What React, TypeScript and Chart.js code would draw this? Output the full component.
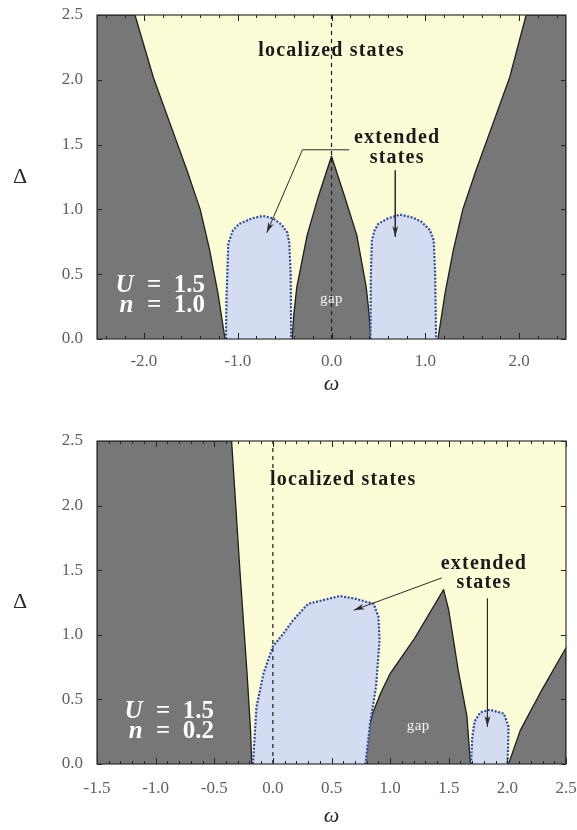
import React, { useEffect, useRef } from 'react';
import { Chart, registerables } from 'chart.js';

Chart.register(...registerables);

type P = [number, number];

// ---------------- Panel 1 : U = 1.5, n = 1.0 ----------------
const p1XLabels = [-2, -1, 0, 1, 2];
const p1YLabels = [0, 0.5, 1, 1.5, 2, 2.5];
const p1LeftGap: P[] = [[-2.5, 0], [-2.5, 2.5], [-2.095, 2.5], [-1.9, 2.02], [-1.72, 1.66], [-1.54, 1.3], [-1.4, 1.0], [-1.3, 0.69], [-1.21, 0.35], [-1.135, 0]];
const p1CenterGap: P[] = [[-0.42, 0], [-0.4, 0.2], [-0.37, 0.4], [-0.26, 0.8], [-0.14, 1.1], [0, 1.41], [0.14, 1.1], [0.27, 0.8], [0.37, 0.4], [0.4, 0.2], [0.42, 0]];
const p1RightGap: P[] = [[1.135, 0], [1.21, 0.35], [1.3, 0.69], [1.4, 1.0], [1.54, 1.3], [1.72, 1.66], [1.9, 2.02], [2.075, 2.5], [2.5, 2.5], [2.5, 0]];
const p1LeftExtended: P[] = [[-1.125, 0], [-1.12, 0.3], [-1.1, 0.74], [-1.05, 0.84], [-0.98, 0.89], [-0.85, 0.93], [-0.73, 0.95], [-0.62, 0.93], [-0.53, 0.88], [-0.47, 0.82], [-0.45, 0.74], [-0.435, 0.5], [-0.43, 0]];
const p1RightExtended: P[] = [[0.415, 0], [0.42, 0.5], [0.43, 0.76], [0.46, 0.84], [0.5, 0.89], [0.6, 0.93], [0.73, 0.96], [0.85, 0.94], [0.95, 0.91], [1.05, 0.84], [1.09, 0.76], [1.105, 0.5], [1.115, 0]];
const p1ZeroLine: P[] = [[0, 0], [0, 2.5]];
const p1ArrowA: P[] = [[0.19, 1.46], [-0.31, 1.46], [-0.69, 0.82]];
const p1ArrowB: P[] = [[0.68, 1.3], [0.68, 0.79]];
const p1Notes = [
  { text: 'localized states', x: 0, y: 2.22, kind: 'bold' },
  { text: 'extended', x: 0.7, y: 1.55, kind: 'bold' },
  { text: 'states', x: 0.7, y: 1.4, kind: 'bold' },
  { text: 'gap', x: 0, y: 0.31, kind: 'gap' },
];
const p1Params = [
  { v: 'U', rest: '\u2002=\u20021.5', x: -1.36, y: 0.363 },
  { v: 'n', rest: '\u2002=\u20021.0', x: -1.36, y: 0.21 },
];

// ---------------- Panel 2 : U = 1.5, n = 0.2 ----------------
const p2XLabels = [-1.5, -1, -0.5, 0, 0.5, 1, 1.5, 2, 2.5];
const p2YLabels = [0, 0.5, 1, 1.5, 2, 2.5];
const p2LeftGap: P[] = [[-1.5, 0], [-1.5, 2.5], [-0.352, 2.5], [-0.28, 1.48], [-0.22, 0.7], [-0.19, 0.25], [-0.18, 0]];
const p2MidGap: P[] = [[0.785, 0], [0.8, 0.2], [0.85, 0.39], [0.92, 0.55], [1.0, 0.7], [1.2, 0.96], [1.456, 1.35], [1.5, 1.19], [1.58, 0.73], [1.655, 0.37], [1.685, 0]];
const p2RightGap: P[] = [[2.01, 0], [2.11, 0.26], [2.28, 0.55], [2.5, 0.9], [2.5, 0]];
const p2BigExtended: P[] = [[-0.17, 0], [-0.14, 0.44], [-0.08, 0.7], [0.0, 0.91], [0.09, 1.01], [0.17, 1.11], [0.3, 1.24], [0.57, 1.3], [0.7, 1.28], [0.86, 1.24], [0.9, 1.14], [0.91, 0.96], [0.88, 0.6], [0.83, 0.32], [0.79, 0]];
const p2SmallExtended: P[] = [[1.69, 0], [1.7, 0.2], [1.72, 0.33], [1.77, 0.4], [1.85, 0.42], [1.97, 0.39], [2.01, 0.29], [2.005, 0.1], [2.0, 0]];
const p2ZeroLine: P[] = [[0, 0], [0, 2.5]];
const p2ArrowA: P[] = [[1.44, 1.44], [0.69, 1.19]];
const p2ArrowB: P[] = [[1.83, 1.28], [1.83, 0.29]];
const p2Notes = [
  { text: 'localized states', x: 0.6, y: 2.2, kind: 'bold' },
  { text: 'extended', x: 1.8, y: 1.55, kind: 'bold' },
  { text: 'states', x: 1.8, y: 1.4, kind: 'bold' },
  { text: 'gap', x: 1.24, y: 0.29, kind: 'gap' },
];
const p2Params = [
  { v: 'U', rest: '\u2002=\u20021.5', x: -0.51, y: 0.354 },
  { v: 'n', rest: '\u2002=\u20020.2', x: -0.51, y: 0.199 },
];

// ---------------- styles ----------------
const SERIF = "'Liberation Serif', 'DejaVu Serif', serif";
const GREY = '#777777';
const YELLOW = '#fcfcd7';
const BLUE = '#d4dcf1';
const BLUE_EDGE = '#2c4d9f';
const EDGE = '#1e1e1e';
const TICK_TEXT = '#606060';

interface Panel {
  xMin: number; xMax: number; xLabels: number[]; yLabels: number[]; minorStep: number;
  gaps: P[][]; exts: P[][]; zero: P[]; arrows: P[][];
  notes: { text: string; x: number; y: number; kind: string }[];
  params: { v: string; rest: string; x: number; y: number }[];
  height: number; areaTop: number; areaBottom: number; titleGap: number; labelPad: number;
}

const panel1: Panel = {
  xMin: -2.5, xMax: 2.5, xLabels: p1XLabels, yLabels: p1YLabels, minorStep: 0.2,
  gaps: [p1LeftGap, p1CenterGap, p1RightGap], exts: [p1LeftExtended, p1RightExtended],
  zero: p1ZeroLine, arrows: [p1ArrowA, p1ArrowB], notes: p1Notes, params: p1Params,
  height: 400, areaTop: 15, areaBottom: 339, titleGap: 45, labelPad: 12,
};
const panel2: Panel = {
  xMin: -1.5, xMax: 2.5, xLabels: p2XLabels, yLabels: p2YLabels, minorStep: 0.1,
  gaps: [p2LeftGap, p2MidGap, p2RightGap], exts: [p2BigExtended, p2SmallExtended],
  zero: p2ZeroLine, arrows: [p2ArrowA, p2ArrowB], notes: p2Notes, params: p2Params,
  height: 430, areaTop: 41, areaBottom: 364, titleGap: 52, labelPad: 14,
};

const pts = (a: P[]) => a.map(([x, y]) => ({ x, y }));

function makeDecor(panel: Panel) {
  return {
    id: 'decor',
    beforeDatasetsDraw(chart: any) {
      const { ctx, chartArea: a } = chart;
      ctx.save();
      ctx.fillStyle = YELLOW;
      ctx.fillRect(a.left, a.top, a.right - a.left, a.bottom - a.top);
      ctx.restore();
    },
    afterDatasetsDraw(chart: any) {
      const { ctx, chartArea: a, scales } = chart;
      const xs = scales.x, ys = scales.y;
      // arrow heads
      chart.data.datasets.forEach((ds: any, i: number) => {
        if (!ds.isArrow) return;
        const els = chart.getDatasetMeta(i).data;
        const e1 = els[els.length - 1], e0 = els[els.length - 2];
        const ang = Math.atan2(e1.y - e0.y, e1.x - e0.x);
        const L = 11, w = 0.27;
        ctx.save();
        ctx.fillStyle = '#2a2a2a';
        ctx.beginPath();
        ctx.moveTo(e1.x, e1.y);
        ctx.lineTo(e1.x - L * Math.cos(ang - w), e1.y - L * Math.sin(ang - w));
        ctx.lineTo(e1.x - 0.7 * L * Math.cos(ang), e1.y - 0.7 * L * Math.sin(ang));
        ctx.lineTo(e1.x - L * Math.cos(ang + w), e1.y - L * Math.sin(ang + w));
        ctx.closePath();
        ctx.fill();
        ctx.restore();
      });
      // notes
      ctx.save();
      ctx.textAlign = 'center';
      ctx.textBaseline = 'middle';
      panel.notes.forEach((n) => {
        const px = xs.getPixelForValue(n.x), py = ys.getPixelForValue(n.y);
        if (n.kind === 'bold') {
          ctx.font = `bold 20px ${SERIF}`;
          (ctx as any).letterSpacing = '1.2px';
          ctx.fillStyle = '#1a1a1a';
        } else {
          ctx.font = `15px ${SERIF}`;
          (ctx as any).letterSpacing = '0.5px';
          ctx.fillStyle = '#f4f4f4';
        }
        ctx.fillText(n.text, px, py);
      });
      (ctx as any).letterSpacing = '0px';
      // parameters (right aligned)
      ctx.textAlign = 'left';
      ctx.textBaseline = 'alphabetic';
      ctx.fillStyle = '#ffffff';
      panel.params.forEach((p) => {
        const right = xs.getPixelForValue(p.x), base = ys.getPixelForValue(p.y);
        const fv = `italic bold 25px ${SERIF}`, fr = `bold 25px ${SERIF}`;
        ctx.font = fv; const wv = ctx.measureText(p.v).width;
        ctx.font = fr; const wr = ctx.measureText(p.rest).width;
        const x = right - wv - wr;
        ctx.font = fv; ctx.fillText(p.v, x, base);
        ctx.font = fr; ctx.fillText(p.rest, x + wv + 1, base);
      });
      ctx.restore();
      // ticks
      ctx.save();
      ctx.strokeStyle = '#222';
      ctx.lineWidth = 1;
      ctx.beginPath();
      const k0 = Math.ceil(panel.xMin / panel.minorStep - 1e-6);
      const k1 = Math.floor(panel.xMax / panel.minorStep + 1e-6);
      for (let k = k0; k <= k1; k++) {
        const v = k * panel.minorStep;
        const major = panel.xLabels.some((m) => Math.abs(m - v) < 1e-6);
        const len = major ? 6 : 3;
        const px = Math.round(xs.getPixelForValue(v)) + 0.5;
        ctx.moveTo(px, a.bottom); ctx.lineTo(px, a.bottom - len);
        ctx.moveTo(px, a.top); ctx.lineTo(px, a.top + len);
      }
      panel.yLabels.forEach((v) => {
        const py = Math.round(ys.getPixelForValue(v)) + 0.5;
        ctx.moveTo(a.left, py); ctx.lineTo(a.left + 5, py);
        ctx.moveTo(a.right, py); ctx.lineTo(a.right - 5, py);
      });
      ctx.stroke();
      ctx.strokeStyle = '#333';
      ctx.lineWidth = 1.2;
      ctx.strokeRect(a.left, a.top, a.right - a.left, a.bottom - a.top);
      ctx.restore();
    },
    afterDraw(chart: any) {
      const { ctx, chartArea: a } = chart;
      ctx.save();
      ctx.fillStyle = '#2a2a2a';
      ctx.textAlign = 'center';
      ctx.textBaseline = 'middle';
      ctx.font = `22px ${SERIF}`;
      ctx.fillText('\u0394', a.left - 77, (a.top + a.bottom) / 2);
      ctx.font = `italic 22px ${SERIF}`;
      ctx.fillText('\u03c9', (a.left + a.right) / 2, a.bottom + panel.titleGap);
      ctx.restore();
    },
  };
}

function zeroPad(s: any) {
  s.paddingLeft = 0; s.paddingRight = 0; s.paddingTop = 0; s.paddingBottom = 0;
}

function PanelChart({ panel }: { panel: Panel }) {
  const ref = useRef<HTMLCanvasElement>(null);
  useEffect(() => {
    const canvas = ref.current!;
    const datasets: any[] = [];
    panel.arrows.forEach((a) =>
      datasets.push({ data: pts(a), isArrow: true, borderColor: '#2a2a2a', borderWidth: 1, pointRadius: 0, fill: false }),
    );
    datasets.push({ data: pts(panel.zero), borderColor: '#1a1a1a', borderWidth: 1.2, borderDash: [4, 4], pointRadius: 0, fill: false });
    panel.exts.forEach((e) =>
      datasets.push({ data: pts(e), borderColor: BLUE_EDGE, borderWidth: 2.2, borderDash: [2, 1.6], backgroundColor: BLUE, fill: 'shape', pointRadius: 0 }),
    );
    panel.gaps.forEach((g) =>
      datasets.push({ data: pts(g), borderColor: EDGE, borderWidth: 1.3, backgroundColor: GREY, fill: 'shape', pointRadius: 0 }),
    );
    const chart = new Chart(canvas, {
      type: 'line',
      data: { datasets },
      options: {
        responsive: false,
        animation: false,
        devicePixelRatio: 1,
        events: [],
        layout: { padding: { top: panel.areaTop, right: 11, left: 0, bottom: 0 } },
        plugins: { legend: { display: false }, tooltip: { enabled: false } },
        elements: { line: { tension: 0, borderJoinStyle: 'round' } },
        scales: {
          x: {
            type: 'linear', min: panel.xMin, max: panel.xMax,
            afterBuildTicks: (s: any) => { s.ticks = panel.xLabels.map((v) => ({ value: v })); },
            afterFit: (s: any) => { s.height = panel.height - panel.areaBottom; zeroPad(s); },
            grid: { display: false, drawTicks: false }, border: { display: false },
            ticks: {
              autoSkip: false, maxRotation: 0, minRotation: 0, padding: panel.labelPad, color: TICK_TEXT,
              font: { family: SERIF, size: 17 },
              callback: (v: any) => Number(v).toFixed(1),
            },
          },
          y: {
            type: 'linear', min: 0, max: 2.5,
            afterBuildTicks: (s: any) => { s.ticks = panel.yLabels.map((v) => ({ value: v })); },
            afterFit: (s: any) => { s.width = 97; zeroPad(s); },
            grid: { display: false, drawTicks: false }, border: { display: false },
            ticks: {
              autoSkip: false, padding: 14, color: TICK_TEXT,
              font: { family: SERIF, size: 17 },
              callback: (v: any) => Number(v).toFixed(1),
            },
          },
        },
      } as any,
      plugins: [makeDecor(panel)],
    });
    return () => chart.destroy();
  }, [panel]);
  return <canvas ref={ref} width={577} height={panel.height} style={{ display: 'block', width: 577, height: panel.height }} />;
}

export default function App() {
  return (
    <div style={{ position: 'absolute', left: 0, top: 0, width: 577, height: 830, background: '#ffffff' }}>
      <PanelChart panel={panel1} />
      <PanelChart panel={panel2} />
    </div>
  );
}
